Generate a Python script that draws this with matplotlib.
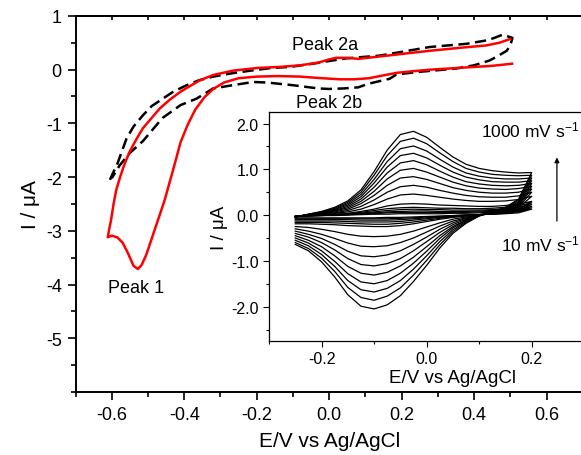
import numpy as np
import matplotlib
matplotlib.use('Agg')
import matplotlib.pyplot as plt
from matplotlib.ticker import MultipleLocator, FormatStrFormatter

plt.rcParams['font.family'] = ['Liberation Sans', 'DejaVu Sans']
plt.rcParams['axes.unicode_minus'] = False
plt.rcParams['mathtext.default'] = 'regular'

# ---- main plot: red CV (solid) and black CV (dashed) ----
red_E = [0.505, 0.45, 0.40, 0.33, 0.28, 0.23, 0.186, 0.14, 0.11, 0.07, 0.03, -0.02, -0.08,
         -0.14, -0.20, -0.25, -0.29, -0.32, -0.345, -0.37, -0.39, -0.41, -0.43, -0.455,
         -0.475, -0.49, -0.505, -0.518, -0.528, -0.54, -0.555, -0.57, -0.585, -0.60, -0.611,
         -0.608, -0.602, -0.595, -0.588, -0.578, -0.565, -0.55, -0.53, -0.514, -0.49, -0.467,
         -0.44, -0.41, -0.38, -0.357, -0.32, -0.266, -0.20, -0.137, -0.08, -0.03, 0.0, 0.02,
         0.05, 0.08, 0.12, 0.186, 0.277, 0.368, 0.434, 0.47, 0.50]
red_I = [0.11, 0.07, 0.05, 0.02, 0.0, -0.03, -0.06, -0.12, -0.16, -0.18, -0.18, -0.16, -0.13,
         -0.12, -0.13, -0.16, -0.24, -0.36, -0.52, -0.75, -1.02, -1.35, -1.85, -2.45,
         -2.85, -3.15, -3.45, -3.64, -3.71, -3.65, -3.42, -3.22, -3.12, -3.09, -3.12,
         -3.0, -2.8, -2.5, -2.25, -2.02, -1.76, -1.52, -1.27, -1.09, -0.90, -0.72,
         -0.56, -0.41, -0.29, -0.20, -0.10, -0.02, 0.03, 0.05, 0.08, 0.13, 0.19, 0.22,
         0.22, 0.20, 0.23, 0.28, 0.35, 0.41, 0.45, 0.50, 0.57]

dash_E = [-0.605, -0.595, -0.586, -0.572, -0.559, -0.54, -0.514, -0.49, -0.459, -0.43, -0.393,
          -0.36, -0.32, -0.27, -0.218, -0.16, -0.108, -0.045, 0.0, 0.048, 0.139, 0.20, 0.277,
          0.379, 0.44, 0.479, 0.506, 0.50, 0.49, 0.465, 0.443, 0.40, 0.35, 0.285, 0.25, 0.186,
          0.167, 0.11, 0.08, 0.04, 0.0, -0.03, -0.10, -0.172, -0.21, -0.266, -0.32, -0.366,
          -0.41, -0.46, -0.514, -0.55, -0.578, -0.60]
dash_I = [-2.05, -1.90, -1.78, -1.52, -1.28, -1.06, -0.85, -0.68, -0.54, -0.41, -0.29,
          -0.20, -0.13, -0.07, -0.02, 0.03, 0.05, 0.11, 0.16, 0.21, 0.26, 0.33, 0.42,
          0.48, 0.55, 0.65, 0.59, 0.45, 0.35, 0.25, 0.17, 0.08, 0.02, -0.02, -0.04, -0.09,
          -0.17, -0.26, -0.33, -0.35, -0.36, -0.35, -0.29, -0.24, -0.23, -0.29, -0.35, -0.54,
          -0.66, -0.90, -1.33, -1.55, -1.78, -2.02]

# ---- inset: CVs at scan rates 10 ... 1000 mV/s ----
inset_E_fwd = [-0.25, -0.225, -0.2, -0.175, -0.15, -0.125, -0.1, -0.075, -0.05, -0.025,
               0.0, 0.025, 0.05, 0.075, 0.1, 0.125, 0.15, 0.175, 0.2]
inset_E_rev = inset_E_fwd[::-1]

# anodic (forward) branches, one row per scan rate, in inset_E_fwd order
inset_I_fwd = [
    [-0.04, 0.02, 0.08, 0.17, 0.31, 0.55, 0.95, 1.42, 1.76, 1.83, 1.70, 1.48, 1.27, 1.11, 1.02, 0.97, 0.94, 0.92, 0.93],
    [-0.04, 0.02, 0.07, 0.15, 0.28, 0.50, 0.87, 1.30, 1.61, 1.68, 1.56, 1.36, 1.17, 1.02, 0.94, 0.89, 0.87, 0.86, 0.87],
    [-0.04, 0.01, 0.06, 0.13, 0.25, 0.45, 0.78, 1.17, 1.45, 1.51, 1.40, 1.22, 1.05, 0.92, 0.85, 0.81, 0.79, 0.79, 0.81],
    [-0.04, 0.01, 0.05, 0.12, 0.22, 0.40, 0.70, 1.05, 1.30, 1.35, 1.25, 1.09, 0.94, 0.83, 0.77, 0.73, 0.72, 0.72, 0.75],
    [-0.04, 0.01, 0.05, 0.10, 0.19, 0.35, 0.61, 0.92, 1.14, 1.19, 1.10, 0.96, 0.83, 0.73, 0.68, 0.65, 0.64, 0.65, 0.69],
    [-0.03, 0.01, 0.04, 0.09, 0.16, 0.30, 0.52, 0.79, 0.98, 1.02, 0.94, 0.83, 0.72, 0.64, 0.59, 0.57, 0.56, 0.58, 0.63],
    [-0.03, 0.00, 0.03, 0.07, 0.13, 0.25, 0.43, 0.65, 0.81, 0.84, 0.78, 0.69, 0.60, 0.54, 0.50, 0.48, 0.48, 0.50, 0.57],
    [-0.03, 0.00, 0.02, 0.05, 0.10, 0.19, 0.33, 0.50, 0.62, 0.65, 0.61, 0.54, 0.48, 0.43, 0.40, 0.39, 0.39, 0.42, 0.50],
    [-0.03, 0.00, 0.02, 0.04, 0.07, 0.13, 0.23, 0.35, 0.44, 0.46, 0.43, 0.39, 0.35, 0.32, 0.30, 0.30, 0.31, 0.34, 0.41],
    [-0.03, -0.01, 0.01, 0.02, 0.04, 0.08, 0.13, 0.20, 0.24, 0.25, 0.24, 0.22, 0.21, 0.20, 0.19, 0.19, 0.21, 0.24, 0.30],
    [-0.03, -0.01, 0.00, 0.01, 0.03, 0.06, 0.10, 0.14, 0.16, 0.17, 0.16, 0.15, 0.15, 0.14, 0.14, 0.15, 0.17, 0.20, 0.27],
    [-0.03, -0.01, 0.00, 0.01, 0.02, 0.04, 0.07, 0.10, 0.12, 0.13, 0.12, 0.12, 0.11, 0.11, 0.11, 0.12, 0.14, 0.17, 0.23],
    [-0.03, -0.02, -0.01, 0.00, 0.01, 0.03, 0.05, 0.07, 0.08, 0.09, 0.09, 0.08, 0.08, 0.08, 0.09, 0.10, 0.11, 0.14, 0.19],
    [-0.03, -0.02, -0.01, 0.00, 0.01, 0.02, 0.03, 0.05, 0.06, 0.06, 0.06, 0.06, 0.06, 0.06, 0.07, 0.08, 0.09, 0.12, 0.16],
    [-0.02, -0.02, -0.01, -0.01, 0.00, 0.01, 0.02, 0.02, 0.03, 0.03, 0.03, 0.03, 0.04, 0.04, 0.05, 0.06, 0.07, 0.09, 0.13],
]

# cathodic (reverse) branches, same rows, in inset_E_rev order
inset_I_rev = [
    [0.93, 0.35, 0.17, 0.08, -0.02, -0.18, -0.40, -0.72, -1.10, -1.45, -1.76, -1.96, -2.05, -1.99, -1.74, -1.35, -1.02, -0.78, -0.64],
    [0.87, 0.32, 0.16, 0.07, -0.02, -0.16, -0.36, -0.65, -0.99, -1.31, -1.59, -1.77, -1.86, -1.80, -1.58, -1.23, -0.94, -0.73, -0.60],
    [0.81, 0.29, 0.15, 0.07, -0.01, -0.14, -0.32, -0.58, -0.89, -1.18, -1.43, -1.60, -1.68, -1.63, -1.43, -1.12, -0.86, -0.67, -0.55],
    [0.75, 0.26, 0.14, 0.06, -0.01, -0.12, -0.28, -0.51, -0.79, -1.05, -1.27, -1.43, -1.50, -1.46, -1.28, -1.01, -0.78, -0.61, -0.50],
    [0.69, 0.24, 0.13, 0.06, -0.01, -0.11, -0.25, -0.45, -0.69, -0.92, -1.11, -1.25, -1.31, -1.27, -1.12, -0.89, -0.69, -0.55, -0.45],
    [0.63, 0.22, 0.12, 0.05, 0.00, -0.09, -0.21, -0.38, -0.58, -0.78, -0.95, -1.06, -1.11, -1.08, -0.95, -0.76, -0.60, -0.48, -0.40],
    [0.57, 0.20, 0.11, 0.05, 0.00, -0.07, -0.17, -0.31, -0.48, -0.64, -0.78, -0.87, -0.91, -0.89, -0.79, -0.64, -0.51, -0.42, -0.35],
    [0.50, 0.18, 0.10, 0.04, 0.00, -0.06, -0.13, -0.24, -0.37, -0.50, -0.60, -0.67, -0.69, -0.68, -0.61, -0.51, -0.42, -0.35, -0.30],
    [0.41, 0.16, 0.09, 0.04, 0.00, -0.04, -0.09, -0.17, -0.26, -0.35, -0.42, -0.46, -0.47, -0.46, -0.42, -0.36, -0.31, -0.27, -0.25],
    [0.30, 0.13, 0.08, 0.04, 0.01, -0.02, -0.05, -0.09, -0.14, -0.19, -0.23, -0.25, -0.25, -0.24, -0.23, -0.21, -0.20, -0.19, -0.19],
    [0.27, 0.12, 0.07, 0.03, 0.01, -0.01, -0.04, -0.07, -0.11, -0.15, -0.18, -0.20, -0.20, -0.19, -0.18, -0.17, -0.16, -0.16, -0.16],
    [0.23, 0.10, 0.06, 0.03, 0.01, -0.01, -0.03, -0.05, -0.08, -0.11, -0.14, -0.15, -0.15, -0.15, -0.14, -0.13, -0.13, -0.13, -0.13],
    [0.19, 0.08, 0.05, 0.02, 0.01, 0.00, -0.02, -0.04, -0.06, -0.08, -0.10, -0.11, -0.11, -0.11, -0.10, -0.10, -0.10, -0.10, -0.10],
    [0.16, 0.07, 0.04, 0.02, 0.01, 0.00, -0.01, -0.03, -0.04, -0.06, -0.07, -0.08, -0.08, -0.08, -0.08, -0.08, -0.08, -0.08, -0.08],
    [0.13, 0.05, 0.03, 0.02, 0.01, 0.00, -0.01, -0.02, -0.03, -0.04, -0.05, -0.05, -0.06, -0.06, -0.06, -0.06, -0.06, -0.06, -0.06],
]

main_xticks = [-0.6, -0.4, -0.2, 0.0, 0.2, 0.4, 0.6]
main_yticks = [1, 0, -1, -2, -3, -4, -5]
inset_xticks = [-0.2, 0.0, 0.2]
inset_yticks = [2.0, 1.0, 0.0, -1.0, -2.0]

fig = plt.figure(figsize=(5.81, 4.56), dpi=100)

# main axes
ax = fig.add_axes([0.130, 0.138, 0.873, 0.825])
ax.plot(red_E, red_I, color='#ff0000', lw=1.8, zorder=3)
ax.plot(dash_E, dash_I, color='black', lw=1.8, linestyle=(0, (4.5, 2.2)), zorder=2)
ax.set_xlim(-0.7, 0.7)
ax.set_ylim(-6, 1)
ax.set_xticks(main_xticks)
ax.set_yticks(main_yticks)
ax.xaxis.set_major_formatter(FormatStrFormatter('%.1f'))
ax.xaxis.set_minor_locator(MultipleLocator(0.1))
ax.yaxis.set_minor_locator(MultipleLocator(0.5))
ax.tick_params(which='major', direction='out', length=6, width=1.2, labelsize=13, pad=4)
ax.tick_params(which='minor', direction='out', length=3.5, width=1.2)
for sp in ax.spines.values():
    sp.set_linewidth(1.4)
ax.set_xlabel('E/V vs Ag/AgCl', fontsize=15, labelpad=6)
ax.set_ylabel('I / \u03bcA', fontsize=15, labelpad=4)

top = ax.secondary_xaxis('top')
top.xaxis.set_major_locator(MultipleLocator(0.1))
top.tick_params(direction='in', length=3, width=1.2, labeltop=False)
top.spines['top'].set_linewidth(1.4)

ax.text(-0.534, -4.05, 'Peak 1', fontsize=13, ha='center', va='center')
ax.text(-0.01, 0.46, 'Peak 2a', fontsize=13, ha='center', va='center')
ax.text(-0.0, -0.62, 'Peak 2b', fontsize=13, ha='center', va='center')

# inset axes
ins = fig.add_axes([0.463, 0.25, 0.633, 0.502])
ins.set_facecolor('white')
for i in range(len(inset_I_fwd)):
    ins.plot(inset_E_fwd + inset_E_rev, inset_I_fwd[i] + inset_I_rev[i], color='black', lw=0.9)
ins.set_xlim(-0.3, 0.4)
ins.set_ylim(-2.75, 2.25)
ins.set_xticks(inset_xticks)
ins.set_yticks(inset_yticks)
ins.xaxis.set_major_formatter(FormatStrFormatter('%.1f'))
ins.yaxis.set_major_formatter(FormatStrFormatter('%.1f'))
ins.xaxis.set_minor_locator(MultipleLocator(0.1))
ins.yaxis.set_minor_locator(MultipleLocator(0.5))
ins.tick_params(which='major', direction='out', length=4.5, width=0.8, labelsize=11.5, pad=3)
ins.tick_params(which='minor', direction='out', length=2.5, width=0.8)
for sp in ins.spines.values():
    sp.set_linewidth(0.9)
ins.set_xlabel('E/V vs Ag/AgCl', fontsize=13.5, labelpad=2)
ins.set_ylabel('I / \u03bcA', fontsize=13.5, labelpad=2)

ins.text(0.104, 1.86, '1000 mV s$^{-1}$', fontsize=12.5, ha='left', va='center')
ins.text(0.142, -0.63, '10 mV s$^{-1}$', fontsize=12.5, ha='left', va='center')
ins.annotate('', xy=(0.248, 1.26), xytext=(0.248, -0.13),
             arrowprops=dict(arrowstyle='-|>', color='black', lw=0.9,
                             mutation_scale=7, shrinkA=0, shrinkB=0))

fig.savefig('out.png', dpi=100)
